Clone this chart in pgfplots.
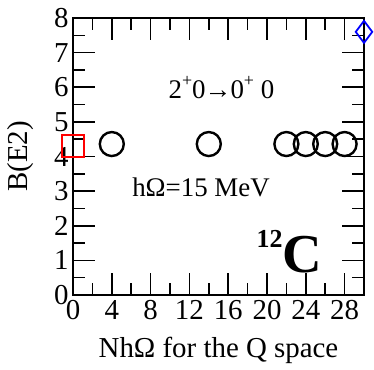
\documentclass[border=0pt]{standalone}
\usepackage{pgfplots}
\pgfplotsset{compat=1.18}
\usepackage{fontspec}
\setmainfont{Liberation Serif}
\begin{document}
\begin{tikzpicture}
\useasboundingbox (-73bp,-75bp) rectangle (301bp,295bp);
\begin{axis}[
  at={(0,0)}, anchor=south west,
  scale only axis, width=291bp, height=277bp,
  xmin=0, xmax=30, ymin=0, ymax=8,
  xtick={0,4,...,28},
  ytick={0,1,...,8},
  major tick length=0pt,
  axis line style={line width=1.8bp},
  tick label style={font=\fontsize{29}{32}\selectfont},
  /pgf/number format/assume math mode=true,
  xticklabel style={yshift=-2bp},
  yticklabel style={xshift=-1bp},
  xlabel={NhΩ for the Q space},
  ylabel={B(E2)},
  label style={font=\fontsize{29}{32}\selectfont},
  xlabel style={at={(axis description cs:0.5,0)}, anchor=base, yshift=-62bp},
  ylabel style={at={(axis description cs:0,0.5)}, anchor=base, rotate=0, xshift=0bp, yshift=45bp},
  clip=false,
]
\pgfplotsinvokeforeach{4,8,12,16,20,24,28}{
  \fill[black] (axis cs:#1,0) ++(-0.8bp,0) rectangle ++(1.6bp,22bp);
  \fill[black] (axis cs:#1,8) ++(-0.8bp,0) rectangle ++(1.6bp,-22bp);
}
\pgfplotsinvokeforeach{2,6,10,14,18,22,26}{
  \fill[black] (axis cs:#1,0) ++(-0.8bp,0) rectangle ++(1.6bp,12bp);
  \fill[black] (axis cs:#1,8) ++(-0.8bp,0) rectangle ++(1.6bp,-12bp);
}
\pgfplotsinvokeforeach{1,2,3,4,5,6,7}{
  \fill[black] (axis cs:0,#1) ++(0,-0.8bp) rectangle ++(22bp,1.6bp);
  \fill[black] (axis cs:30,#1) ++(0,-0.8bp) rectangle ++(-22bp,1.6bp);
}
\pgfplotsinvokeforeach{0.5,1.5,2.5,3.5,4.5,5.5,6.5,7.5}{
  \fill[black] (axis cs:0,#1) ++(0,-0.8bp) rectangle ++(12bp,1.6bp);
  \fill[black] (axis cs:30,#1) ++(0,-0.8bp) rectangle ++(-12bp,1.6bp);
}
\addplot[only marks, mark=o, mark size=12bp, line width=2.4bp, black] coordinates {
(4,4.36) (14,4.36) (22,4.36) (24,4.36) (26,4.36) (28,4.36)};
\addplot[only marks, mark=square, mark size=11bp, line width=1.6bp, red] coordinates {(0,4.3)};
\addplot[only marks, mark=diamond, mark size=11bp, line width=1.8bp, blue] coordinates {(30,7.6)};
\node[font=\fontsize{27}{30}\selectfont] at (axis cs:15.3,6.0) {2\raisebox{0.45em}{\fontsize{18}{20}\selectfont +}0\kern-1bp→\kern-1bp0\raisebox{0.45em}{\fontsize{18}{20}\selectfont +} 0};
\node[font=\fontsize{27}{30}\selectfont] at (axis cs:13.2,3.1) {hΩ=15 MeV};
\node[font=\fontsize{55}{60}\selectfont\bfseries] at (axis cs:22.3,1.25) {\raisebox{0.45em}{\fontsize{26}{28}\selectfont 12}C};
\end{axis}
\end{tikzpicture}
\end{document}
